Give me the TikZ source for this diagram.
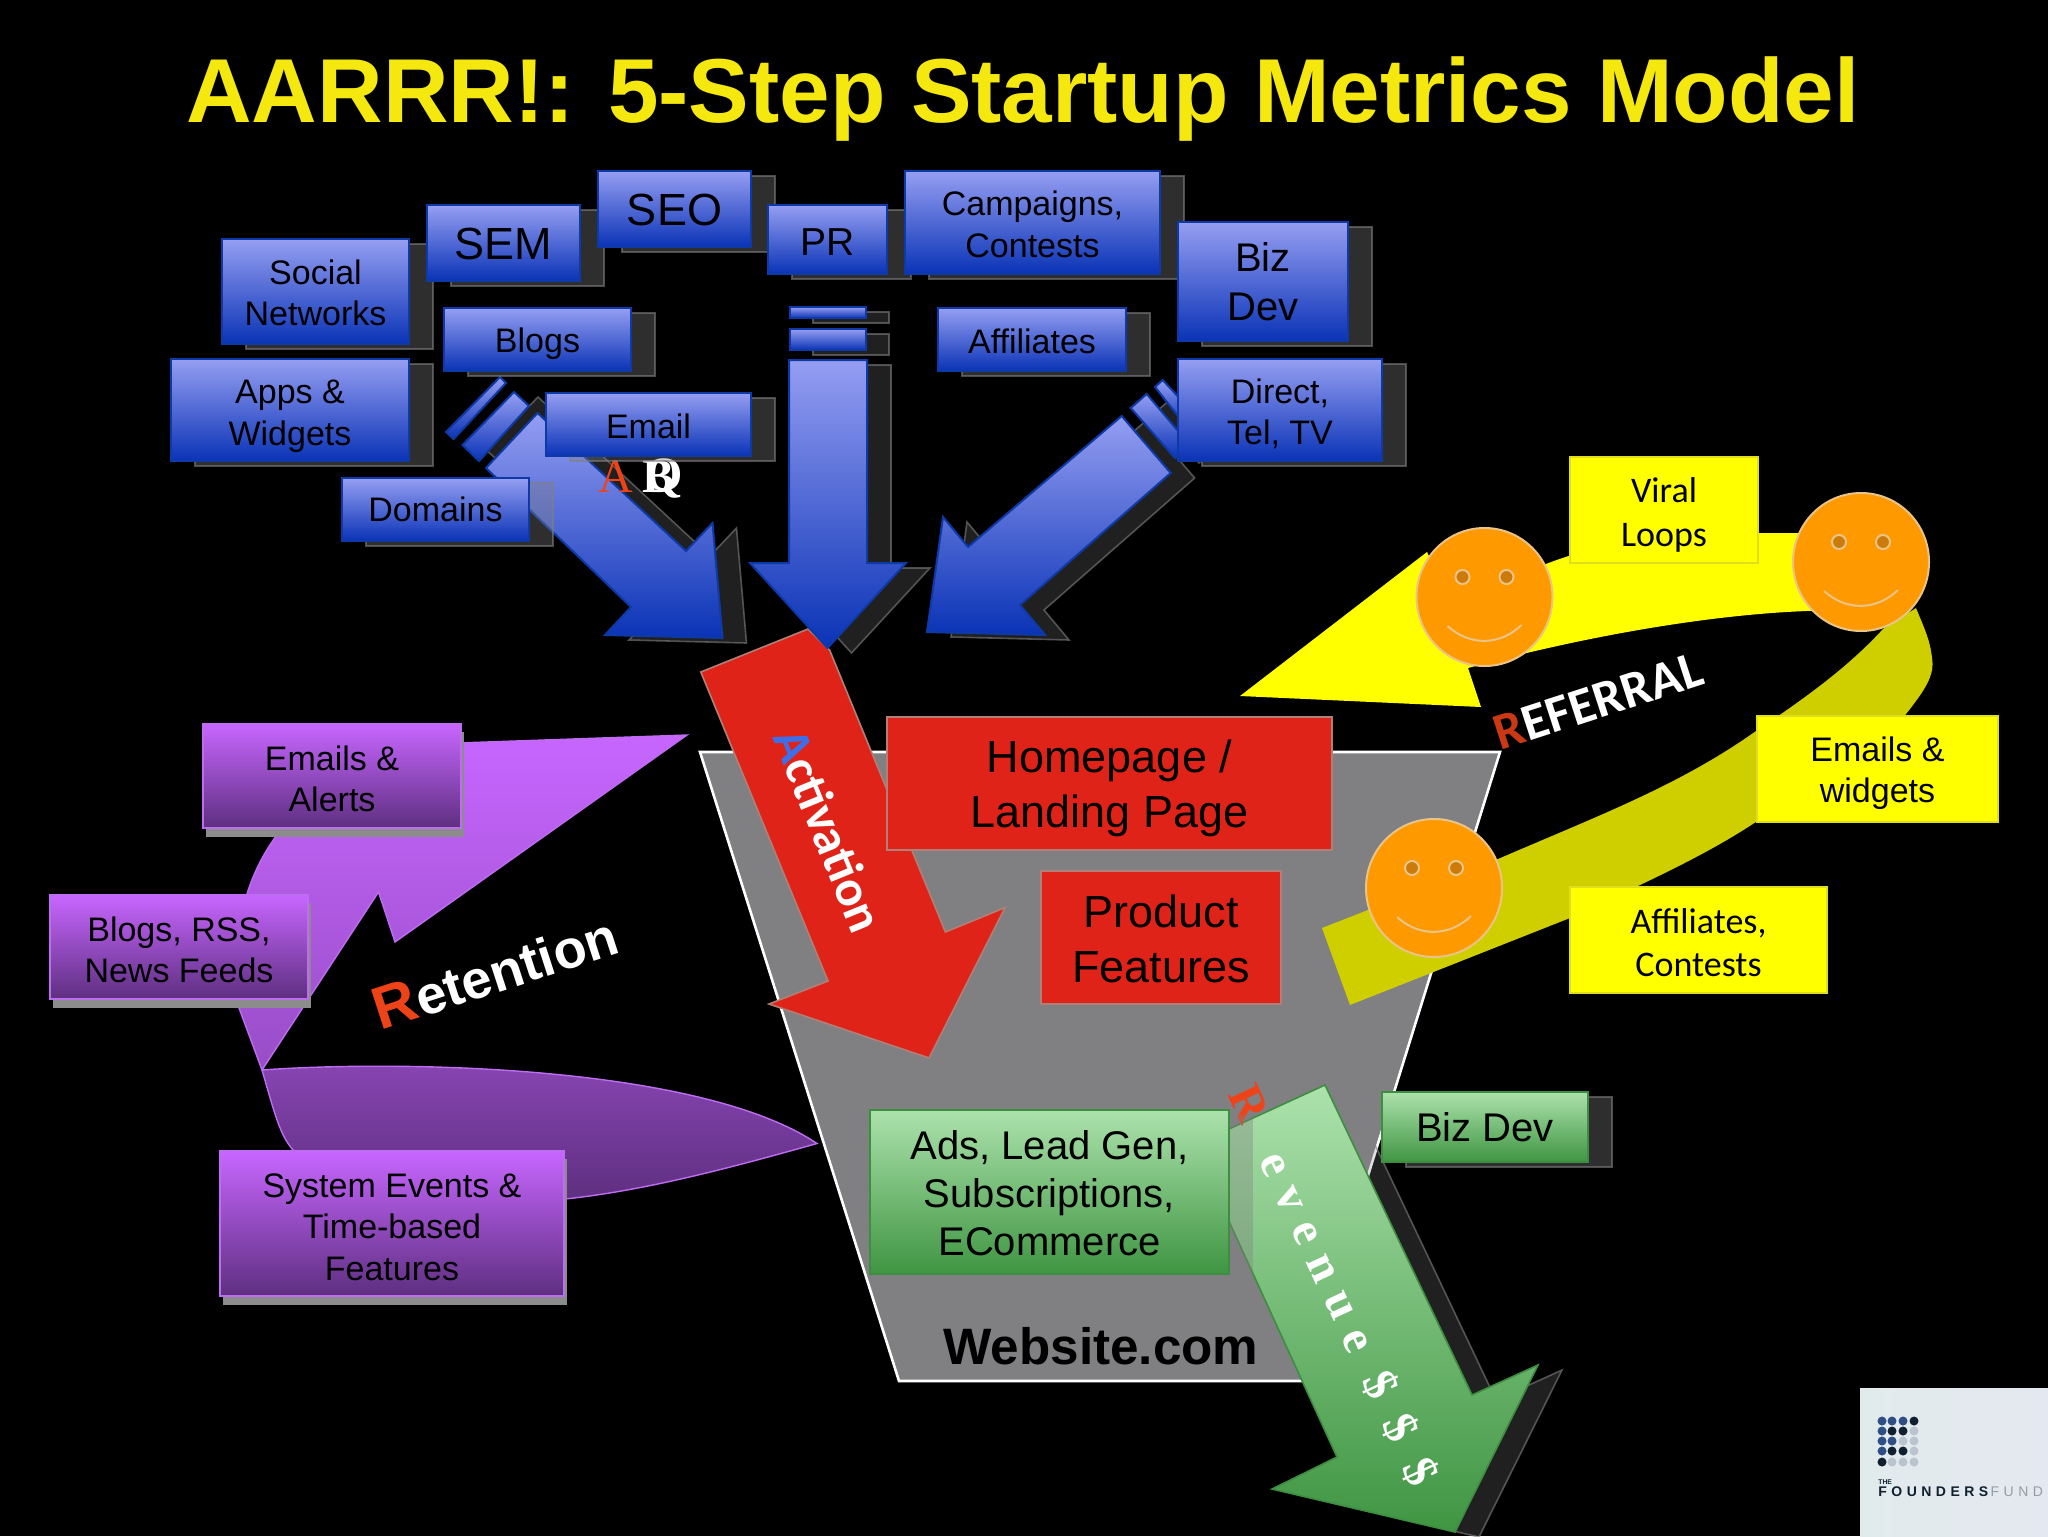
\documentclass[tikz,border=0pt]{standalone}
\usepackage{fontspec}
\setmainfont{Liberation Sans}
\newfontfamily\calfont{Carlito}
\newfontfamily\serfont{Liberation Serif}
\newfontfamily\revfont[LetterSpace=31]{Liberation Serif}
\newfontfamily\fundfont[LetterSpace=32]{Liberation Sans}
\definecolor{bluetop}{HTML}{959EF2}
\definecolor{bluebot}{HTML}{0A33B6}
\definecolor{blueline}{HTML}{0E3AA8}
\definecolor{purtop}{HTML}{C766FF}
\definecolor{purbot}{HTML}{5E2F80}
\definecolor{purline}{HTML}{BE6CF2}
\definecolor{grntop}{HTML}{ACE2AC}
\definecolor{grnbot}{HTML}{3F9542}
\definecolor{grnline}{HTML}{3E8E41}
\definecolor{redfill}{HTML}{DF2318}
\definecolor{redline}{HTML}{B08078}
\definecolor{funnel}{HTML}{807F82}
\definecolor{olive}{HTML}{CFCF00}
\definecolor{yel}{HTML}{FFFF00}
\definecolor{orangeface}{HTML}{FF9900}
\definecolor{faceline}{HTML}{E8C489}
\definecolor{eyefill}{HTML}{CC7A0A}
\definecolor{titleyel}{HTML}{F4E80E}
\definecolor{redtext}{HTML}{EE4318}
\definecolor{bluetext}{HTML}{3F6FE8}
\definecolor{dotblue}{HTML}{2F4E86}
\definecolor{dotdark}{HTML}{10202E}
\definecolor{dotlight}{HTML}{B9C4CF}
\definecolor{logoa}{HTML}{E2EBEC}
\definecolor{logob}{HTML}{E4E8F0}
\newcommand{\sz}[1]{\pgfmathsetmacro\lsk{#1*1.22}\fontsize{#1}{\lsk}\selectfont}
\tikzset{
 x=0.5pt,y=-0.5pt,
 fs/.style={font=\sz{#1}},
 cs/.style={font=\calfont\sz{#1}},
 boxtext/.style={inner sep=0pt,outer sep=0pt,align=center,text=black},
 bluebox/.style={draw=blueline,line width=1pt,top color=bluetop,bottom color=bluebot},
 purbox/.style={draw=purline,line width=1pt,top color=purtop,bottom color=purbot},
 grnbox/.style={draw=grnline,line width=.7pt,top color=grntop,bottom color=grnbot},
 redbox/.style={draw=redline,line width=.7pt,fill=redfill},
 yelbox/.style={draw=yel!75!gray,line width=.7pt,fill=yel},
 softshadow/.style={fill=gray,fill opacity=.36,draw=gray,draw opacity=.6,line width=.8pt},
 arrowshadow/.style={fill=gray,fill opacity=.25,draw=gray,draw opacity=.6,line width=.8pt},
 purshadow/.style={fill=gray!90},
 bluearrow/.style={draw=blueline,line width=1pt,top color=bluetop,bottom color=bluebot},
 smile/.style={draw=faceline,line width=1pt},
 funneledge/.style={draw=white,line width=1.3pt,fill=funnel},
}
% [text shift in pt], box style, text style, name, x1, y1, x2, y2, text
\newcommand{\txtbox}[9][0]{\path[#2] (#5,#6) rectangle (#7,#8);\def\boxtxt{#9}\placetxt{#1}{#3}{#4}{#5}{#6}{#7}{#8}}
\newcommand{\placetxt}[7]{\node[boxtext,#2] (#3) at ({(#4+#6)/2},{(#5+#7)/2+2*#1}) {\boxtxt};}
\newcommand{\shbox}[9][0]{\path[softshadow] ({#5+24},{#6+5}) rectangle ({#7+24},{#8+5});\txtbox[#1]{#2}{#3}{#4}{#5}{#6}{#7}{#8}{#9}}
\newcommand{\pubox}[9][0]{\path[purshadow] ({#5+3},{#6+8}) rectangle ({#7+3},{#8+9});\txtbox[#1]{#2}{#3}{#4}{#5}{#6}{#7}{#8}{#9}}
\newcommand{\face}[2]{\begin{scope}[shift={(#1,#2)}]
 \path[draw=faceline,fill=orangeface,line width=1pt] (0,0) ellipse[x radius=68,y radius=69];
 \path[draw=faceline,fill=eyefill,line width=1pt] (-22,-20) circle[radius=7];
 \path[draw=faceline,fill=eyefill,line width=1pt] (22,-20) circle[radius=7];
 \path[smile] (-37,29) .. controls (-15,49) and (15,49) .. (37,28);
\end{scope}}
\def\arrowL{(486,468) -- (537.5,413) -- (686,551) -- (712.5,523) -- (722.5,638) -- (605,635) -- (631,607) -- cycle}
\def\arrowC{(789,360) -- (867,360) -- (867,563) -- (906,563) -- (827.5,648) -- (750,563) -- (789,563) -- cycle}
\def\arrowR{(1121.7,416) -- (1170.7,473) -- (1020,605) -- (1045,635) -- (927,632) -- (943,517) -- (968,547) -- cycle}
\def\arrowRev{(1325,1085) -- (1472,1395) -- (1538,1365) -- (1455,1532) -- (1272,1489) -- (1337,1457) -- (1194,1145) -- cycle}
\begin{document}
\begin{tikzpicture}
\useasboundingbox (0,0) rectangle (2048,1536);
\clip (0,0) rectangle (2048,1536);
\fill[black] (0,0) rectangle (2048,1536);
% title
\node[anchor=base,text=titleyel,font=\bfseries\fontsize{45.4}{52}\selectfont,inner sep=0pt] (title) at (1023,122) {AARRR!: 5-Step Startup Metrics Model};
% funnel
\path[funneledge] (700,752) -- (1500,752) -- (1304,1381) -- (899,1381) -- cycle;
\node[anchor=base,font=\bfseries\fontsize{25.6}{30}\selectfont,text=black,inner sep=0pt] (website) at (1101,1364) {Website.com};
% retention
\path[draw=purline,line width=.7pt,top color=purtop,bottom color=purtop!55!purbot] (687,735) -- (400,745) .. controls (330,775) and (270,820) .. (247,894) .. controls (235,940) and (232,975) .. (239,1008) -- (262,1070) -- (378.5,892) -- (395,942) -- cycle;
\path[draw=purline,line width=.7pt,top color=purbot!60!purtop,bottom color=purbot] (262,1070) .. controls (400,1060) and (700,1065) .. (817,1143.5) .. controls (740,1165) and (650,1190) .. (565,1199) -- (400,1200) -- (293,1150) .. controls (280,1135) and (275,1115) .. (262,1070) -- cycle;
\node[rotate=18,text=white,inner sep=0pt,font=\bfseries] (retention) at (495,972) {\fontsize{30}{36}\selectfont\textcolor{redtext}{R}\fontsize{27}{32}\selectfont etention};
% referral
\path[fill=olive] (1322,928)--(1350,1005)--(1570,918) .. controls (1650,880) and (1720,850) .. (1780,805) .. controls (1840,765) and (1880,750) .. (1906,714) .. controls (1925,690) and (1935,675) .. (1932,658) .. controls (1930,640) and (1925,630) .. (1916,608) -- (1883,629) .. controls (1850,665) and (1810,695) .. (1756,731) .. controls (1680,785) and (1600,815) .. (1498,859) -- cycle;
\path[fill=yel] (1240,696) -- (1427,552) -- (1450,600) -- (1546,564) .. controls (1620,535) and (1700,533) .. (1758,533) -- (1850,533) -- (1830,610) -- (1807,611) .. controls (1700,615) and (1570,640) .. (1468,668) -- (1481,707) -- cycle;
\face{1484.5}{597}
\face{1861}{562}
\face{1434}{888}
\txtbox[2.4]{yelbox}{cs=18}{viral}{1570}{457}{1758}{563}{Viral\\Loops}
\txtbox[2.2]{yelbox}{fs=17}{emailw}{1757}{716}{1998}{822}{Emails \&\\widgets}
\txtbox[1.3]{yelbox}{cs=18}{affc}{1570}{887}{1827}{993}{Affiliates,\\Contests}
\node[rotate=18,text=white,inner sep=0pt,font=\calfont\bfseries\fontsize{26}{30}\selectfont] (referral) at (1598,701) {\textcolor{redtext!85!black}{R}EFERRAL};
% activation arrow
\path[draw=redline,line width=.8pt,fill=redfill] (700.8,672) -- (808,629) -- (829.6,650) -- (945.4,932) -- (1005,907.6) -- (929,1058) -- (769,1004) -- (828,981) -- cycle;
\node[rotate=-67.8,text=white,inner sep=0pt,font=\calfont\bfseries\fontsize{25.5}{30}\selectfont] (activation) at (829,830) {\textcolor{bluetext}{A}ctivation};
% blue arrows and their shadows
\path[arrowshadow,shift={(24,5)}] \arrowL;
\path[arrowshadow,shift={(24,5)}] \arrowC;
\path[arrowshadow,shift={(24,5)}] \arrowR;
\path[arrowshadow,shift={(23,5)}] (790,307) rectangle (866,318);
\path[arrowshadow,shift={(23,5)}] (790,329) rectangle (866,350);
\path[arrowshadow,shift={(24,5)}] (514,392) -- (529,406) -- (479,461) -- (462.5,445) -- cycle;
\path[arrowshadow,shift={(24,5)}] (1130.7,408) -- (1146.7,394) -- (1190,445) -- (1175,458) -- cycle;
\path[bluearrow] \arrowL;
\path[bluearrow] (500,377) -- (506,383) -- (453.6,439) -- (446,432) -- cycle;
\path[bluearrow] (514,392) -- (529,406) -- (479,461) -- (462.5,445) -- cycle;
\path[bluearrow] \arrowC;
\path[bluearrow] (790,307) rectangle (866,318);
\path[bluearrow] (790,329) rectangle (866,350);
\path[bluearrow] \arrowR;
\path[bluearrow] (1130.7,408) -- (1146.7,394) -- (1190,445) -- (1175,458) -- cycle;
\path[bluearrow] (1155,387) -- (1162.7,380) -- (1195,415) -- (1185,425) -- cycle;
% acquisition glyphs
\node[text=white,inner sep=0pt,font=\serfont\bfseries\fontsize{24}{28}\selectfont] (acqb) at (658,477) {B};
\node[text=white,inner sep=0pt,font=\serfont\bfseries\fontsize{24}{28}\selectfont] (acqq) at (664,478) {Q};
\node[text=redtext,inner sep=0pt,font=\serfont\fontsize{24}{28}\selectfont] (acqa) at (616,477) {A};
% blue boxes
\shbox[.7]{bluebox}{fs=17}{social}{222}{239}{409}{344}{Social\\Networks}
\shbox[.7]{bluebox}{fs=22.5}{sem}{427}{205}{580}{281}{SEM}
\shbox[.7]{bluebox}{fs=22.5}{seo}{598}{171}{751}{247}{SEO}
\shbox[1.3]{bluebox}{fs=19.5}{pr}{768}{205}{887}{274}{PR}
\shbox[1]{bluebox}{fs=17}{camp}{905}{171}{1160}{274}{Campaigns,\\Contests}
\shbox{bluebox}{fs=20}{bizdev}{1178}{222}{1348}{341}{Biz\\Dev}
\shbox[2]{bluebox}{fs=17}{blogs}{444}{308}{631}{371}{Blogs}
\shbox[.7]{bluebox}{fs=17}{affil}{938}{308}{1126}{371}{Affiliates}
\shbox[3.2]{bluebox}{fs=17}{apps}{171}{359}{409}{461}{Apps \&\\Widgets}
\shbox[2]{bluebox}{fs=17}{direct}{1178}{359}{1382}{461}{Direct,\\Tel, TV}
\shbox[.7]{bluebox}{fs=17}{email}{546}{393}{751}{456}{Email}
\shbox{bluebox}{fs=17}{domains}{342}{478}{529}{541}{Domains}
% purple boxes
\pubox[1.3]{purbox}{fs=17}{alerts}{203}{724}{461}{828}{Emails \&\\Alerts}
\pubox[1.3]{purbox}{fs=17}{rss}{50}{895}{308}{999}{Blogs, RSS,\\News Feeds}
\pubox[1.8]{purbox}{fs=17}{system}{220}{1151}{564}{1296}{System Events \&\\Time-based\\Features}
% red boxes
\txtbox[2.6]{redbox}{fs=22.5}{home}{887}{717}{1332}{850}{Homepage /\\Landing Page}
\txtbox[.5]{redbox}{fs=22.5}{product}{1041}{871}{1281}{1004}{Product\\Features}
% revenue
\path[arrowshadow,shift={(24,5)}] \arrowRev;
\path[draw=grnline,line width=.8pt,top color=grntop,bottom color=grnbot] \arrowRev;
\node[rotate=-65,text=white,inner sep=0pt,font=\revfont\bfseries\fontsize{24}{28}\selectfont] (revenue) at (1334,1285) {\textcolor{redtext}{R}\kern19pt evenue \$\kern12pt\$\kern12pt\$};
\path[fill=gray,fill opacity=.36] (894,1115) rectangle (1253,1279);
\txtbox[.7]{grnbox}{font=\fontsize{20}{24}\selectfont}{ads}{870}{1110}{1229}{1274}{Ads, Lead Gen,\\Subscriptions,\\ECommerce}
\path[softshadow] (1406,1097) rectangle (1612,1167);
\txtbox{grnbox}{fs=20}{bizdevg}{1382}{1092}{1588}{1162}{Biz Dev}
% logo
\path[left color=logoa,right color=logob] (1860,1388) rectangle (2048,1536);
\foreach \px/\py/\c in {1882/1421/dotblue,1892/1421/dotblue,1903/1421/dotblue,1914/1421/dotdark,
 1882/1431/dotblue,1892/1431/dotdark,1903/1431/dotdark,1914/1431/dotlight,
 1882/1441/dotblue,1892/1441/dotblue,1903/1441/dotlight,1914/1441/dotlight,
 1882/1451/dotblue,1892/1451/dotdark,1903/1451/dotdark,1914/1451/dotlight,
 1882/1462/dotdark,1892/1462/dotlight,1903/1462/dotlight,1914/1462/dotlight}{
 \fill[\c] (\px,\py) circle[radius=4.5];}
\node[anchor=base west,inner sep=0pt,text=dotdark,font=\bfseries\fontsize{3.4}{4}\selectfont] (the) at (1878,1484) {THE};
\node[anchor=base west,inner sep=0pt,font=\fundfont\bfseries\fontsize{7}{8}\selectfont,text=dotdark] (fund) at (1878,1496) {FOUNDERS\,\textcolor{dotlight!80!black}{\mdseries FUND}};
\end{tikzpicture}
\end{document}
